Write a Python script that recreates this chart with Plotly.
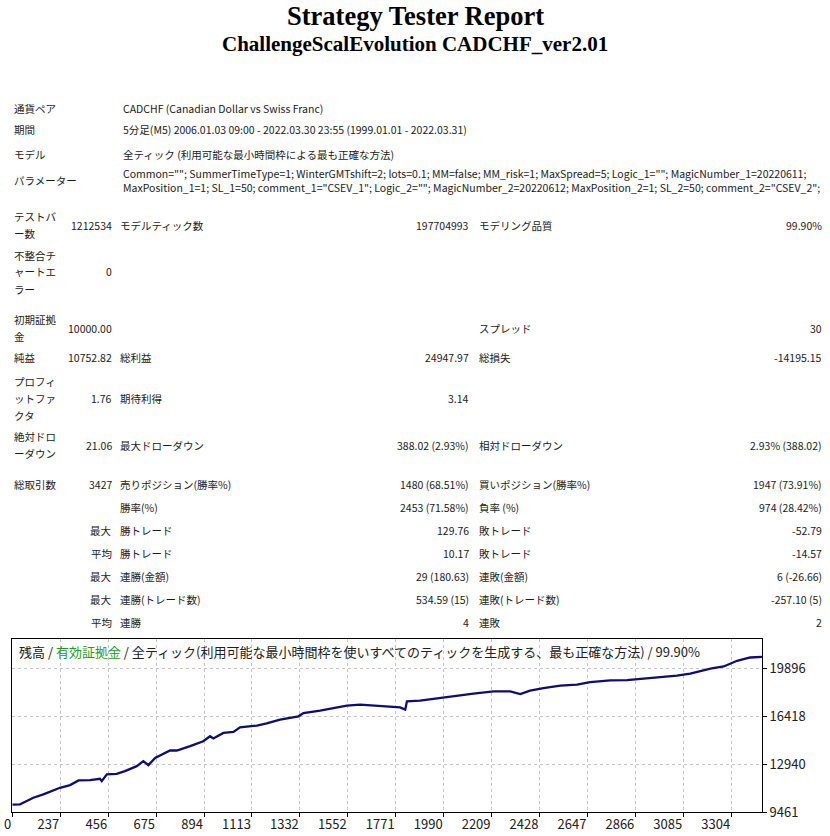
import plotly.graph_objects as go

W, H = 830, 836

# -------------------- equity curve --------------------
trade_no = [0, 35, 50, 96, 142, 218, 264, 303, 355, 401, 409, 432, 477, 515, 569, 599,
            622, 653, 721, 752, 813, 873, 904, 919, 965, 1011, 1041, 1118, 1163, 1224,
            1308, 1331, 1407, 1468, 1529, 1590, 1652, 1712, 1773, 1796, 1804, 1864, 1925,
            1987, 2047, 2108, 2200, 2276, 2322, 2367, 2428, 2505, 2581, 2642, 2733, 2810,
            2886, 2977, 3038, 3099, 3191, 3252, 3313, 3373, 3427]
balance = [10000, 10020, 10136, 10499, 10746, 11225, 11421, 11762, 11784, 11879, 11712,
           12198, 12242, 12438, 12801, 13164, 12873, 13403, 13940, 13940, 14253, 14616,
           14979, 14812, 15218, 15291, 15632, 15755, 15922, 16191, 16431, 16670, 16846,
           17033, 17208, 17280, 17229, 17135, 17084, 16917, 17520, 17571, 17716, 17810,
           17955, 18079, 18246, 18246, 18050, 18297, 18485, 18659, 18732, 18921, 19044,
           19066, 19168, 19262, 19385, 19531, 19894, 20061, 20475, 20714, 20753]

x_tick_text = ["0", "237", "456", "675", "894", "1113", "1332", "1552", "1771",
               "1990", "2209", "2428", "2647", "2866", "3085", "3304"]
x_tick_step = 219.07
y_tick_vals = [9461, 12940, 16418, 19896]
y_top = 22060
total_trades = 3427

chart_caption = ("残高 / <span style='color:#1e9a1e'>有効証拠金</span> / "
                 "全ティック(利用可能な最小時間枠を使いすべてのティックを生成する、最も正確な方法) / 99.90%")

# -------------------- report text --------------------
title = "Strategy Tester Report"
subtitle = "ChallengeScalEvolution CADCHF_ver2.01"

info_labels = ["通貨ペア", "期間", "モデル", "パラメーター"]
info_values = [
    "CADCHF (Canadian Dollar vs Swiss Franc)",
    "5分足(M5) 2006.01.03 09:00 - 2022.03.30 23:55 (1999.01.01 - 2022.03.31)",
    "全ティック (利用可能な最小時間枠による最も正確な方法)",
    'Common=""; SummerTimeType=1; WinterGMTshift=2; lots=0.1; MM=false; MM_risk=1; '
    'MaxSpread=5; Logic_1=""; MagicNumber_1=20220611;<br>'
    'MaxPosition_1=1; SL_1=50; comment_1="CSEV_1"; Logic_2=""; MagicNumber_2=20220612; '
    'MaxPosition_2=1; SL_2=50; comment_2="CSEV_2";',
]

stat_labels = [["テストバ", "ー数"], ["不整合チ", "ャートエ", "ラー"], ["初期証拠", "金"],
               ["純益"], ["プロフィ", "ットファ", "クタ"], ["絶対ドロ", "ーダウン"],
               ["総取引数"], [], [], [], [], [], []]
stat_v1 = ["1212534", "0", "10000.00", "10752.82", "1.76", "21.06", "3427",
           "", "最大", "平均", "最大", "最大", "平均"]
stat_k2 = ["モデルティック数", "", "", "総利益", "期待利得", "最大ドローダウン",
           "売りポジション(勝率%)", "勝率(%)", "勝トレード", "勝トレード",
           "連勝(金額)", "連勝(トレード数)", "連勝"]
stat_v2 = ["197704993", "", "", "24947.97", "3.14", "388.02 (2.93%)", "1480 (68.51%)",
           "2453 (71.58%)", "129.76", "10.17", "29 (180.63)", "534.59 (15)", "4"]
stat_k3 = ["モデリング品質", "", "スプレッド", "総損失", "", "相対ドローダウン",
           "買いポジション(勝率%)", "負率 (%)", "敗トレード", "敗トレード",
           "連敗(金額)", "連敗(トレード数)", "連敗"]
stat_v3 = ["99.90%", "", "30", "-14195.15", "", "2.93% (388.02)", "1947 (73.91%)",
           "974 (28.42%)", "-52.79", "-14.57", "6 (-26.66)", "-257.10 (5)", "2"]

# row positions on the page (px from top)
info_y = [108, 130, 154, 181]
stat_y = [225, 272, 328, 358, 398, 445, 485, 507, 530, 553, 576, 599, 622]

JP = "Noto Sans CJK JP"
TXT = "#1a1a1a"
FS = 10.5

annotations = []


def note(px, py, text, anchor="left", size=FS, color=TXT, family=JP):
    annotations.append(dict(
        x=px / W, y=1 - py / H, xref="paper", yref="paper", text=text,
        xanchor=anchor, yanchor="middle", showarrow=False, align=anchor,
        font=dict(family=family, size=size, color=color)))


# header
note(W / 2, 16, "<b>" + title + "</b>", "center", 26.5, "#000", "Liberation Serif")
note(W / 2, 44, "<b>" + subtitle + "</b>", "center", 21, "#000", "Liberation Serif")

# info block
for lab, val, y in zip(info_labels, info_values, info_y):
    note(12, y, lab)
    note(121, y, val)

# stats block
for i, y in enumerate(stat_y):
    lines = stat_labels[i]
    n = len(lines)
    for j, ln in enumerate(lines):
        note(12, y + (j - (n - 1) / 2) * 17, ln)
    if stat_v1[i]:
        note(114, y, stat_v1[i], "right")
    if stat_k2[i]:
        note(118, y, stat_k2[i])
    if stat_v2[i]:
        note(471, y, stat_v2[i], "right")
    if stat_k3[i]:
        note(477, y, stat_k3[i])
    if stat_v3[i]:
        note(824, y, stat_v3[i], "right")

# chart caption inside the plot frame
note(17, 651, chart_caption, "left", 13, "#202020")

fig = go.Figure()
fig.add_trace(go.Scatter(
    x=trade_no, y=balance, mode="lines",
    line=dict(color="#0d0d75", width=2.3), hoverinfo="skip"))

grid = dict(showgrid=True, gridcolor="#c4c4c4", griddash="3px,3px", gridwidth=1)

fig.update_layout(
    width=W, height=H, margin=dict(l=0, r=0, t=0, b=0, autoexpand=False),
    paper_bgcolor="white", plot_bgcolor="white", showlegend=False,
    annotations=annotations,
    xaxis=dict(
        domain=[12.3 / W, 762 / W], range=[0, total_trades],
        tickvals=[k * x_tick_step for k in range(len(x_tick_text))], ticktext=x_tick_text,
        ticks="outside", ticklen=4, tickcolor="#000", ticklabelposition="outside left",
        showline=True, linecolor="#000", linewidth=1, mirror=True,
        zeroline=False, tickfont=dict(family=JP, size=13, color="#202020"), **grid),
    yaxis=dict(
        domain=[1 - 812 / H, 1 - 639 / H], range=[y_tick_vals[0], y_top], side="right",
        tickvals=y_tick_vals, tickformat="d", ticks="outside", ticklen=4, tickcolor="#000",
        showline=True, linecolor="#000", linewidth=1, mirror=True,
        zeroline=False, tickfont=dict(family=JP, size=13, color="#202020"), **grid),
)

# page body has a default 8px margin; drop it so the figure fills the window
fig.write_html("out.html", config={"displayModeBar": False},
               post_script="document.body.style.margin='0';")
